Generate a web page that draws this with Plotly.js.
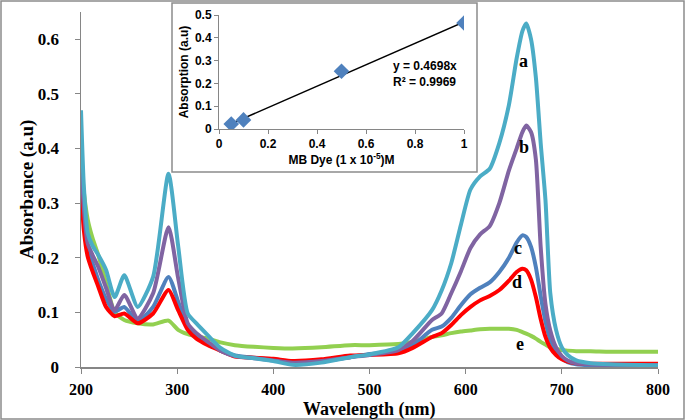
<!DOCTYPE html>
<html><head><meta charset="utf-8">
<script src="https://cdn.plot.ly/plotly-3.0.1.min.js"></script>
<style>html,body{margin:0;padding:0;background:#fff}#chart{width:685px;height:420px}</style>
</head><body><div id="chart"></div>
<script>
// Wavelength grid (nm)
const wavelength = [200,203,207,212,218,226,235,245,259,275,291,301,311,320,332,345,360,380,400,420,450,480,500,530,545,565,575,585,595,605,615,625,635,645,653,659,663,668,673,678,683,688,694,700,706,715,730,750,800];
// Absorbance series a-e
const seriesA = [0.47,0.33,0.245,0.222,0.205,0.178,0.128,0.168,0.110,0.165,0.354,0.222,0.098,0.080,0.058,0.035,0.021,0.016,0.011,0.004,0.008,0.018,0.023,0.036,0.062,0.104,0.14,0.19,0.26,0.325,0.349,0.363,0.41,0.48,0.565,0.615,0.629,0.60,0.53,0.41,0.305,0.135,0.068,0.036,0.022,0.012,0.007,0.005,0.003];
const seriesB = [0.40,0.29,0.226,0.205,0.183,0.145,0.104,0.132,0.089,0.135,0.256,0.163,0.080,0.062,0.046,0.030,0.020,0.016,0.012,0.008,0.011,0.018,0.022,0.031,0.048,0.086,0.098,0.135,0.175,0.218,0.243,0.258,0.30,0.36,0.40,0.43,0.442,0.43,0.38,0.22,0.115,0.067,0.036,0.02,0.012,0.007,0.005,0.004,0.003];
const seriesC = [0.36,0.27,0.214,0.19,0.159,0.125,0.101,0.110,0.083,0.110,0.165,0.120,0.074,0.058,0.045,0.030,0.021,0.017,0.013,0.008,0.011,0.018,0.024,0.028,0.040,0.068,0.074,0.09,0.113,0.133,0.145,0.155,0.174,0.20,0.228,0.241,0.238,0.22,0.183,0.13,0.083,0.05,0.031,0.016,0.009,0.005,0.003,0.002,0.002];
const seriesD = [0.33,0.25,0.202,0.175,0.147,0.11,0.093,0.098,0.080,0.098,0.141,0.104,0.068,0.052,0.040,0.030,0.019,0.017,0.015,0.011,0.014,0.021,0.022,0.025,0.035,0.055,0.062,0.077,0.095,0.11,0.122,0.13,0.141,0.158,0.174,0.180,0.177,0.16,0.128,0.088,0.055,0.035,0.022,0.014,0.010,0.007,0.006,0.006,0.006];
const seriesE = [0.38,0.32,0.27,0.236,0.205,0.155,0.10,0.086,0.080,0.078,0.085,0.068,0.060,0.056,0.052,0.045,0.040,0.037,0.035,0.034,0.036,0.040,0.040,0.042,0.046,0.055,0.058,0.062,0.065,0.067,0.069,0.070,0.070,0.070,0.068,0.064,0.061,0.057,0.052,0.046,0.041,0.036,0.033,0.031,0.030,0.029,0.029,0.028,0.028];
const seriesLabels = ['a','b','c','d','e'];
const labelX = [660,661,654,653,656];
const labelY = [0.561,0.403,0.217,0.156,0.043];
const xTicks = [200,300,400,500,600,700,800];
const yTicks = [0,0.1,0.2,0.3,0.4,0.5,0.6];
// Inset calibration data
const dyeConc = [0.05,0.1,0.5,1];
const absorption = [0.022,0.04,0.253,0.465];
const fitSlope = 0.4698;
const fitR2 = 0.9969;
const fitX = [0.05,1];

const colors = {a:'#4BACC6',b:'#8064A2',c:'#4F81BD',d:'#FF0000',e:'#92D050'};
const serif = 'Liberation Serif, Times New Roman, serif';
const sans = 'Liberation Sans, Arial, sans-serif';
const mk = (y,c)=>({x:wavelength,y:y,type:'scatter',mode:'lines',line:{color:c,width:4,shape:'spline',smoothing:0.6},hoverinfo:'skip',showlegend:false,xaxis:'x',yaxis:'y'});
const traces = [mk(seriesE,colors.e),mk(seriesC,colors.c),mk(seriesD,colors.d),mk(seriesB,colors.b),mk(seriesA,colors.a)];
traces.push({x:fitX,y:fitX.map(v=>fitSlope*v),type:'scatter',mode:'lines',line:{color:'#000',width:1.5},xaxis:'x2',yaxis:'y2',showlegend:false});
traces.push({x:dyeConc,y:absorption,type:'scatter',mode:'markers',marker:{symbol:'diamond',size:12,color:'#4F81BD',line:{width:0}},xaxis:'x2',yaxis:'y2',showlegend:false});

const W=577,H=355,L=81,T=12;
const px = v=>(v-L)/W, py=v=>(T+H-v)/H;

const ann = seriesLabels.map((t,i)=>({x:labelX[i],y:labelY[i],xref:'x',yref:'y',text:'<b>'+t+'</b>',showarrow:false,font:{family:serif,size:18,color:'#000'}}));
ann.push({x:0.70,y:0.24,xref:'x2',yref:'y2',xanchor:'left',align:'left',text:'<b>y = '+fitSlope+'x<br>R² = '+fitR2+'</b>',showarrow:false,font:{family:sans,size:12,color:'#000'}});
ann.push({x:0.5,y:py(409),xref:'paper',yref:'paper',xanchor:'center',yanchor:'middle',text:'<b>Wavelength (nm)</b>',showarrow:false,font:{family:serif,size:18,color:'#000'}});
ann.push({x:px(27),y:py(190),xref:'paper',yref:'paper',xanchor:'center',yanchor:'middle',textangle:-90,text:'<b>Absorbance (a.u)</b>',showarrow:false,font:{family:serif,size:19,color:'#000'}});

const layout = {
  width:685,height:420,margin:{l:81,r:27,t:12,b:53},
  paper_bgcolor:'#fff',plot_bgcolor:'#fff',
  xaxis:{range:[200,800],tickvals:xTicks,showline:true,linecolor:'#868686',linewidth:1.5,ticks:'outside',ticklen:5,tickcolor:'#868686',showgrid:false,zeroline:false,
    tickfont:{family:serif,size:16,color:'#000',weight:'bold'},ticklabelstandoff:2},
  yaxis:{range:[0,0.65],tickvals:yTicks,showline:true,linecolor:'#868686',linewidth:1.5,ticks:'outside',ticklen:5,tickcolor:'#868686',showgrid:false,zeroline:false,
    tickfont:{family:serif,size:17,color:'#000',weight:'bold'},ticklabelstandoff:12},
  xaxis2:{domain:[px(219),px(464)],anchor:'y2',range:[0,1],dtick:0.2,showline:true,linecolor:'#868686',linewidth:1,ticks:'outside',ticklen:4,tickcolor:'#868686',showgrid:false,zeroline:false,
    tickfont:{family:sans,size:12,color:'#000',weight:'bold'},
    title:{text:'<b>MB Dye (1 x 10<sup>-5</sup>)M</b>',font:{family:sans,size:12,color:'#000'},standoff:3}},
  yaxis2:{domain:[py(129),py(15)],anchor:'x2',range:[0,0.5],dtick:0.1,showline:true,linecolor:'#868686',linewidth:1,ticks:'outside',ticklen:4,tickcolor:'#868686',showgrid:false,zeroline:false,
    tickfont:{family:sans,size:12,color:'#000',weight:'bold'},
    title:{text:'<b>Absorption (a.u)</b>',font:{family:sans,size:12,color:'#000'},standoff:3}},
  shapes:[
    {type:'rect',xref:'paper',yref:'paper',x0:px(172),x1:px(477),y0:py(172),y1:py(3),fillcolor:'#fff',line:{color:'#8c8c8c',width:1.5},layer:'below'},
    {type:'rect',xref:'paper',yref:'paper',x0:px(1),x1:px(684),y0:py(419),y1:py(1),line:{color:'#8c8c8c',width:1.5},fillcolor:'rgba(0,0,0,0)',layer:'above'}
  ],
  annotations:ann
};
Plotly.newPlot('chart',traces,layout,{displayModeBar:false,staticPlot:true});
</script></body></html>
